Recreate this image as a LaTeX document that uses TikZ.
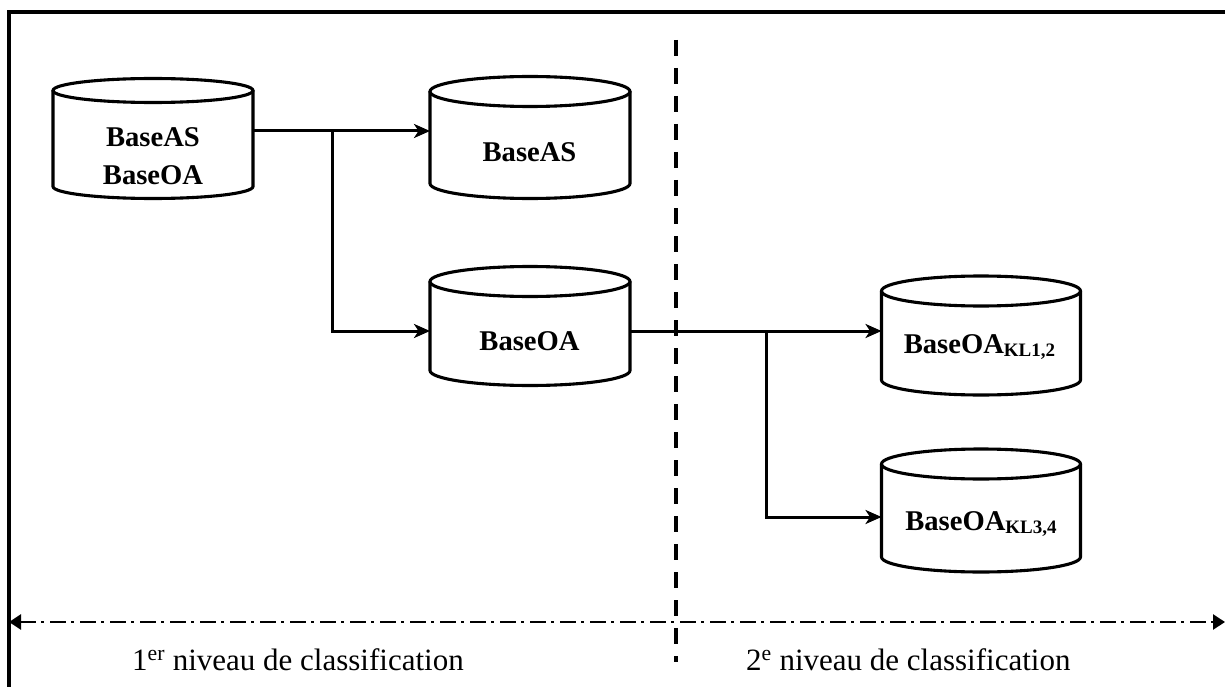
\documentclass[tikz,border=0pt]{standalone}
\usepackage{fontspec}
\setmainfont{Liberation Serif}
\usetikzlibrary{arrows.meta}
\newcommand\subtxt[1]{\raisebox{-3.5pt}{\fontsize{19}{19}\selectfont #1}}
\newcommand\drawcyl[3]{%
  \draw[cylline] (#1.north west) -- (#1.south west)
     arc[start angle=180,end angle=360,x radius=#2pt,y radius=#3pt] -- (#1.north east);
  \draw[cylline] (#1.north) ellipse[x radius=#2pt, y radius=#3pt];
}
\tikzset{
  cylbody/.style={inner sep=0pt, outer sep=0pt},
  cylline/.style={line width=3.1pt},
  conn/.style={line width=3pt, -{Stealth[length=16pt,width=14pt,inset=4.5pt]}},
  dbtext/.style={font=\fontsize{28.6}{38}\selectfont\bfseries, inner sep=0pt},
  lvltext/.style={font=\fontsize{31}{36}\selectfont, inner sep=0pt, anchor=base west},
  framel/.style={line width=3.2pt},
  sepl/.style={line width=3.6pt, dash pattern=on 16pt off 12pt},
  axisl/.style={line width=2.5pt, dash pattern=on 16pt off 5pt on 2.5pt off 6.5pt,
     {Triangle[length=12pt,width=15pt]}-{Triangle[length=12pt,width=15pt]}},
}
\begin{document}
\begin{tikzpicture}[x=1pt,y=-1pt]
\useasboundingbox (0,0) rectangle (1225,687);
% frame
\draw[framel] (9,687) -- (9,12) -- (1225,12);
% separator and axis
\coordinate (v1) at (676,40);
\coordinate (v2) at (676,662);
\draw[sepl] (v1) -- (v2);
\coordinate (h1) at (9,622);
\coordinate (h2) at (1225,622);
\draw[axisl] (h1) -- (h2);
% cylinders
\node[cylbody, minimum width=200pt, minimum height=96pt] (c1) at (153,138.5) {};
\node[cylbody, minimum width=200pt, minimum height=92pt] (c2) at (530,137.5) {};
\node[cylbody, minimum width=200pt, minimum height=89pt] (c3) at (530,326) {};
\node[cylbody, minimum width=199pt, minimum height=89pt] (c4) at (981,335.5) {};
\node[cylbody, minimum width=199pt, minimum height=93pt] (c5) at (981,510.5) {};
\drawcyl{c1}{100}{12}
\drawcyl{c2}{100}{15}
\drawcyl{c3}{100}{15}
\drawcyl{c4}{99.5}{15}
\drawcyl{c5}{99.5}{15}
% texts
\node[dbtext, align=center] (t1) at (153,156.5) {BaseAS\\BaseOA};
\node[dbtext, anchor=base] (t2) at (529.5,162) {BaseAS};
\node[dbtext, anchor=base] (t3) at (529.5,350) {BaseOA};
\node[dbtext, anchor=base] (t4) at (979.5,353) {BaseOA\subtxt{KL1,2}};
\node[dbtext, anchor=base] (t5) at (981,530) {BaseOA\subtxt{KL3,4}};
\node[lvltext] (l1) at (132,670) {1\textsuperscript{er} niveau de classification};
\node[lvltext] (l2) at (746,670) {2\textsuperscript{e} niveau de classification};
% connectors
\coordinate (b1) at (332,131);
\coordinate (b2) at (766,331);
\draw[conn] ([yshift=7.5pt]c1.east) -- ([yshift=6.5pt]c2.west);
\draw[conn] (b1) |- ([yshift=-5pt]c3.west);
\draw[conn] ([yshift=-5pt]c3.east) -- ([yshift=4.5pt]c4.west);
\draw[conn] (b2) |- ([yshift=-6.5pt]c5.west);
\end{tikzpicture}
\end{document}
